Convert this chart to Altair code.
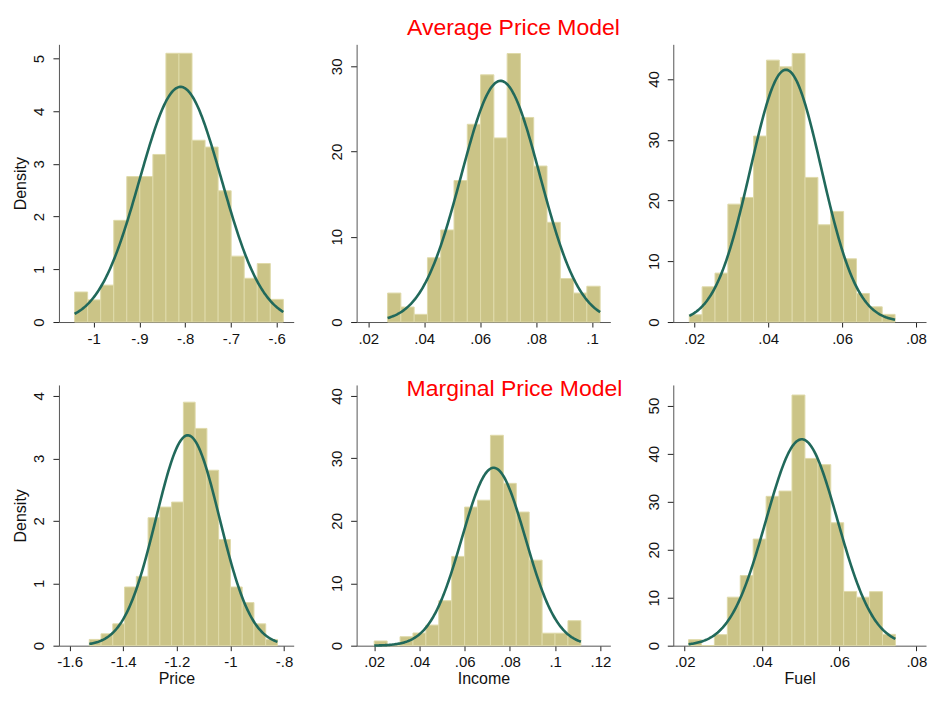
import altair as alt
import pandas as pd

# ---------------- data ----------------
# Average Price Model
avg_price_heights = [0.57, 0.42, 0.70, 1.93, 2.76, 2.76, 3.18, 5.10, 5.10, 3.45, 3.32, 2.49, 1.25, 0.83, 1.11, 0.43]
avg_price_bins = (-1.0415, 0.0285)          # first bin start, bin width
avg_price_norm = (-0.810, 0.0894)           # mean, sd of overlay

avg_income_heights = [3.4, 1.76, 0.9, 7.54, 10.8, 16.6, 23.2, 29.0, 21.6, 31.5, 24.0, 18.3, 11.7, 5.1, 3.4, 4.2]
avg_income_bins = (0.0269, 0.00475)
avg_income_norm = (0.0673, 0.0141)

avg_fuel_heights = [1.2, 5.8, 8.05, 19.4, 20.5, 30.6, 43.1, 42.0, 44.2, 23.8, 16.0, 18.2, 10.4, 4.7, 2.5, 1.26]
avg_fuel_bins = (0.01865, 0.00348)
avg_fuel_norm = (0.0448, 0.00961)

# Marginal Price Model
mar_price_heights = [0.10, 0.19, 0.35, 0.94, 1.11, 2.05, 2.22, 2.30, 3.90, 3.48, 2.81, 1.70, 0.94, 0.69, 0.35, 0.10]
mar_price_bins = (-1.5267, 0.0439)
mar_price_norm = (-1.159, 0.1184)

mar_income_heights = [0.75, 0.0, 1.44, 2.03, 3.3, 7.2, 14.3, 22.2, 23.3, 33.7, 26.0, 21.4, 13.7, 2.0, 2.0, 4.0]
mar_income_bins = (0.0200, 0.00571)
mar_income_norm = (0.0728, 0.0140)

mar_fuel_heights = [1.25, 0.0, 2.3, 10.1, 14.6, 22.2, 31.1, 32.2, 52.2, 39.0, 37.7, 25.6, 11.3, 10.1, 11.25, 2.36]
mar_fuel_bins = (0.02103, 0.003347)
mar_fuel_norm = (0.05034, 0.00928)

# axis ticks
x_ticks = {
    "avg_price": [-1, -0.9, -0.8, -0.7, -0.6],
    "avg_income": [0.02, 0.04, 0.06, 0.08, 0.1],
    "avg_fuel": [0.02, 0.04, 0.06, 0.08],
    "mar_price": [-1.6, -1.4, -1.2, -1, -0.8],
    "mar_income": [0.02, 0.04, 0.06, 0.08, 0.1, 0.12],
    "mar_fuel": [0.02, 0.04, 0.06, 0.08],
}
y_ticks = {
    "avg_price": [0, 1, 2, 3, 4, 5],
    "avg_income": [0, 10, 20, 30],
    "avg_fuel": [0, 10, 20, 30, 40],
    "mar_price": [0, 1, 2, 3, 4],
    "mar_income": [0, 10, 20, 30, 40],
    "mar_fuel": [0, 10, 20, 30, 40, 50],
}
x_domains = {
    "avg_price": [-1.0757, -0.5629],
    "avg_income": [0.01583, 0.10655],
    "avg_fuel": [0.01432, 0.0827],
    "mar_price": [-1.6399, -0.7638],
    "mar_income": [0.01222, 0.1244],
    "mar_fuel": [0.01708, 0.0825],
}
y_domains = {
    "avg_price": [0, 5.27],
    "avg_income": [0, 32.58],
    "avg_fuel": [0, 45.7],
    "mar_price": [0, 4.176],
    "mar_income": [0, 41.76],
    "mar_fuel": [0, 54.3],
}
x_titles = {"mar_price": "Price", "mar_income": "Income", "mar_fuel": "Fuel"}
row_titles = ["Average Price Model", "Marginal Price Model"]

# ---------------- styling ----------------
FONT = "Liberation Sans"
BAR_FILL = "#CBC487"
BAR_STROKE = "#DFDAAA"
CURVE = "#21695B"
AXIS_GREY = "#555555"
TXT = "#111111"
LABEL_EXPR = "replace(toString(datum.value), regexp('^(-?)0[.]'), '$1.')"


def make_axes(key, ytitle):
    common = dict(
        grid=False, labelFlush=False, labelOverlap=False,
        domainColor=AXIS_GREY, domainWidth=1, tickColor="#222222",
        labelFontSize=15, labelFont=FONT, labelColor=TXT,
        titleFontSize=16, titleFont=FONT, titleFontWeight="normal", titleColor=TXT,
        labelExpr=LABEL_EXPR,
    )
    xaxis = alt.Axis(
        values=x_ticks[key], tickSize=5, labelPadding=4, titlePadding=1,
        title=x_titles.get(key, ""), **common,
    )
    yaxis = alt.Axis(
        values=y_ticks[key], labelAngle=-90, labelAlign="center", labelBaseline="bottom",
        tickSize=6, labelPadding=6, minExtent=27, maxExtent=27, titlePadding=3,
        title=ytitle if ytitle else "", **common,
    )
    return xaxis, yaxis


def panel(key, heights, bins, norm, width, height, ytitle=None, title_text=None, title_pos=None):
    start, w = bins
    lo_edges = [start + i * w for i in range(len(heights))]
    df = pd.DataFrame({"lo": lo_edges, "hi": [e + w for e in lo_edges], "density": heights})
    xscale = alt.Scale(domain=x_domains[key], nice=False, zero=False)
    yscale = alt.Scale(domain=y_domains[key], nice=False, zero=False)
    xaxis, yaxis = make_axes(key, ytitle)

    bars = alt.Chart(df).mark_rect(fill=BAR_FILL, stroke=BAR_STROKE, strokeWidth=1).encode(
        x=alt.X("lo:Q", scale=xscale, axis=xaxis),
        x2="hi:Q",
        y=alt.Y("density:Q", scale=yscale, axis=yaxis),
        y2=alt.datum(0),
    )
    mu, sd = norm
    lo, hi = start, start + w * len(heights)
    curve = alt.Chart(alt.sequence(0, 1.0001, 0.005, as_="t")).transform_calculate(
        xv=f"{lo} + datum.t * ({hi - lo})"
    ).transform_calculate(
        yv=f"densityNormal(datum.xv, {mu}, {sd})"
    ).mark_line(color=CURVE, strokeWidth=2.6).encode(
        x=alt.X("xv:Q", scale=xscale, axis=xaxis),
        y=alt.Y("yv:Q", scale=yscale, axis=yaxis),
    )
    layers = [bars, curve]
    if title_text:
        tx, ty = title_pos
        t = alt.Chart(pd.DataFrame({"label": [title_text]})).mark_text(
            font=FONT, fontSize=23, color="#FF0000", align="center", baseline="middle"
        ).encode(x=alt.value(tx), y=alt.value(ty), text="label:N")
        layers.append(t)
    return alt.layer(*layers).properties(width=width, height=height)


p1 = panel("avg_price", avg_price_heights, avg_price_bins, avg_price_norm, 235, 278, ytitle="Density")
p2 = panel("avg_income", avg_income_heights, avg_income_bins, avg_income_norm, 254, 278,
           title_text=row_titles[0], title_pos=(157, -16))
p3 = panel("avg_fuel", avg_fuel_heights, avg_fuel_bins, avg_fuel_norm, 253, 278)
p4 = panel("mar_price", mar_price_heights, mar_price_bins, mar_price_norm, 235, 261, ytitle="Density")
p5 = panel("mar_income", mar_income_heights, mar_income_bins, mar_income_norm, 254, 261,
           title_text=row_titles[1], title_pos=(158, 4))
p6 = panel("mar_fuel", mar_fuel_heights, mar_fuel_bins, mar_fuel_norm, 253, 261)

chart = alt.concat(p1, p2, p3, p4, p5, p6, columns=3, spacing=63, bounds="flush", align="each").properties(
    padding={"left": 5, "top": 9, "right": 5, "bottom": 5},
    background="white",
).configure_view(stroke=None)

chart.save("out.html", embed_options={"renderer": "svg", "actions": False})
